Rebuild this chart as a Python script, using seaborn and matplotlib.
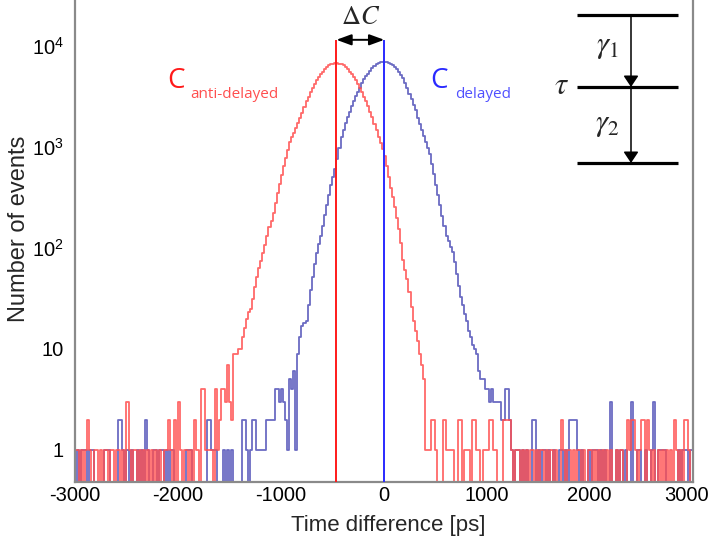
import numpy as np
import pandas as pd
import matplotlib
matplotlib.use("Agg")
import matplotlib.pyplot as plt
import matplotlib.transforms as mtransforms
from matplotlib.ticker import MultipleLocator, LogLocator, FixedLocator, FixedFormatter, NullFormatter
import seaborn as sns

# ---------------- data ----------------
bin_width = 20
x_min, x_max = -3000, 3000

# "C anti-delayed" (red) histogram: core region counts, first bin left edge
red_core_start = -1540
red_core_counts = [
    3, 7, 3, 2, 9, 9, 10, 10, 13, 16, 20, 23, 25, 31, 41, 52, 63, 75, 89, 108,
    131, 160, 185, 221, 279, 350, 431, 526, 641, 776, 933, 1122, 1247, 1387, 1540,
    1711, 1914, 2193, 2512, 2831, 3133, 3467, 3837, 4246, 4609, 4898, 5219, 5559,
    5902, 6223, 6427, 6592, 6699, 6761, 6761, 6699, 6592, 6427, 6223, 5909, 5553,
    5219, 4904, 4609, 4246, 3837, 3467, 3133, 2831, 2525, 2223, 1959, 1706, 1469,
    1268, 1094, 944, 813, 641, 500, 395, 316, 254, 198, 155, 111, 76, 61, 49, 37,
    26, 19, 15, 12, 9, 7, 5, 1, 1, 1, 2, 2, 1,
]
red_noise_edges = [
    -3000, -2980, -2940, -2900, -2880, -2860, -2820, -2800, -2760, -2720, -2700,
    -2660, -2640, -2600, -2580, -2540, -2500, -2480, -2440, -2420, -2380, -2340,
    -2300, -2260, -2220, -2180, -2140, -2120, -2100, -2080, -2040, -2000, -1980,
    -1940, -1920, -1880, -1840, -1820, -1780, -1760, -1740, -1720, -1700, -1680,
    -1640, -1620, -1600, -1580, -1560,
    580, 600, 620, 640, 660, 720, 740, 780, 800, 820, 860, 880, 900, 920, 960, 980,
    1000, 1020, 1040, 1060, 1080, 1160, 1180, 1200, 1220, 1240, 1280, 1300, 1340,
    1380, 1420, 1440, 1480, 1520, 1540, 1580, 1620, 1660, 1720, 1740, 1780, 1800,
    1840, 1880, 1900, 1940, 1980, 2000, 2040, 2080, 2120, 2160, 2200, 2260, 2300,
    2360, 2380, 2400, 2420, 2440, 2480, 2500, 2520, 2560, 2580, 2620, 2660, 2700,
    2740, 2780, 2820, 2840, 2880, 2920, 2940, 2960,
]
red_noise_counts = [
    1, 1, 1, 1, 2, 1, 1, 1, 1, 1, 1,
    1, 1, 1, 1, 1, 3, 1, 1, 1, 1, 1,
    1, 1, 1, 1, 1, 1, 2, 1, 2, 3, 1,
    1, 1, 1, 2, 1, 4, 4, 1, 1, 1, 1,
    4, 1, 2, 4, 4,
    2, 1, 1, 1, 1, 2, 2, 1, 1, 1, 2, 2, 1, 1, 1, 1,
    1, 2, 2, 1, 1, 2, 2, 2, 2, 1, 1, 1, 1,
    1, 1, 1, 1, 1, 1, 1, 1, 1, 2, 1, 1, 1,
    1, 1, 1, 1, 1, 1, 1, 1, 1, 1, 1, 1, 1,
    2, 1, 2, 2, 1, 1, 2, 2, 2, 1, 1, 1, 1,
    1, 1, 2, 1, 1, 2, 2, 1,
]

# "C delayed" (blue) histogram
blue_core_start = -1140
blue_core_counts = [
    2, 2, 2, 2, 4, 4, 3, 4, 3, 2, 1, 5, 4, 6, 1, 9, 13, 17, 18, 19, 27, 38, 52, 69,
    89, 109, 131, 164, 210, 268, 335, 417, 507, 610, 752, 968, 1250, 1466, 1711,
    1968, 2234, 2535, 2858, 3162, 3499, 3873, 4285, 4699, 5000, 5321, 5662, 6026,
    6376, 6607, 6780, 6914, 6982, 6998, 6950, 6855, 6699, 6457, 6180, 5872, 5521,
    5152, 4764, 4330, 3823, 3377, 2983, 2630, 2301, 1945, 1683, 1472, 1288, 1127,
    986, 861, 678, 536, 424, 335, 265, 209, 166, 131, 116, 103, 92, 73, 55, 42, 33,
    27, 22, 19, 15, 13, 11, 10, 9, 6, 5, 5, 4, 4, 3, 4, 3, 3, 3, 3, 2, 2, 4, 4, 2, 1,
]
blue_noise_edges = [
    -2980, -2940, -2920, -2900, -2860, -2840, -2720, -2700, -2680, -2580, -2560,
    -2540, -2500, -2460, -2400, -2360, -2320, -2300, -2240, -2220, -2180, -2160,
    -2120, -2080, -2060, -1920, -1900, -1880, -1720, -1700, -1680, -1660, -1640,
    -1560, -1520, -1480, -1380, -1360, -1340, -1300, -1280, -1260, -1240, -1220,
    -1200, -1180, -1160,
    1280, 1300, 1340, 1380, 1440, 1460, 1500, 1540, 1560, 1600, 1640, 1700, 1720,
    1760, 1800, 1820, 1840, 1860, 1880, 1920, 1980, 2020, 2040, 2060, 2100, 2140,
    2200, 2260, 2300, 2340, 2400, 2460, 2480, 2540, 2600, 2620, 2660, 2680, 2700,
    2720, 2860, 2900, 2920, 2940, 2980,
]
blue_noise_counts = [
    1, 1, 1, 1, 1, 1, 1, 1, 1, 2, 2,
    1, 1, 1, 1, 1, 2, 1, 1, 1, 1, 1,
    1, 1, 1, 1, 1, 1, 2, 2, 1, 1, 1,
    1, 1, 1, 2, 2, 1, 1, 2, 2, 1, 1,
    1, 1, 1,
    1, 1, 1, 1, 2, 2, 1, 1, 1, 1, 1, 1, 1,
    1, 2, 2, 2, 2, 1, 1, 1, 1, 1, 1, 1, 1,
    3, 1, 1, 1, 3, 1, 1, 1, 1, 3, 1, 1, 1,
    1, 1, 1, 1, 1, 1,
]

red_centroid = -460
blue_centroid = 5

x_ticks = [-3000, -2000, -1000, 0, 1000, 2000, 3000]
x_tick_labels = ["-3000", "-2000", "-1000", "0", "1000", "2000", "3000"]
y_ticks = [1, 10, 100, 1000, 10000]
y_tick_labels = ["1", "10", "$10^2$", "$10^3$", "$10^4$"]

# ---------------- assemble ----------------
edges = np.arange(x_min, x_max + bin_width, bin_width)
centers = edges[:-1] + bin_width / 2


def build(core_start, core_counts, noise_edges, noise_counts):
    counts = np.zeros(len(centers))
    i0 = (core_start - x_min) // bin_width
    counts[i0:i0 + len(core_counts)] = core_counts
    for e, c in zip(noise_edges, noise_counts):
        counts[(e - x_min) // bin_width] = c
    return counts


df = pd.concat([
    pd.DataFrame({"time": centers, "counts": build(blue_core_start, blue_core_counts,
                                                   blue_noise_edges, blue_noise_counts),
                  "series": "delayed"}),
    pd.DataFrame({"time": centers, "counts": build(red_core_start, red_core_counts,
                                                   red_noise_edges, red_noise_counts),
                  "series": "anti-delayed"}),
], ignore_index=True)

# ---------------- style ----------------
sns.set_style("white")
plt.rcParams["font.family"] = ["Liberation Sans", "DejaVu Sans"]
plt.rcParams["mathtext.fontset"] = "custom"
plt.rcParams["mathtext.rm"] = "Liberation Sans"
plt.rcParams["mathtext.it"] = "Liberation Sans:italic"
plt.rcParams["mathtext.bf"] = "Liberation Sans:bold"

W, H = 709, 546
fig = plt.figure(figsize=(W / 100, H / 100), dpi=100)
ax = fig.add_axes([75 / W, (H - 482) / H, (692.5 - 75) / W, 482 / H])

hist_colors = {"delayed": "#5252b8", "anti-delayed": "#ff4f4f"}
bin_list = [float(b) for b in edges]
for name in ["delayed", "anti-delayed"]:
    sub = df[df["series"] == name].reset_index(drop=True)
    sns.histplot(data=sub, x="time", weights="counts", bins=bin_list, element="step",
                 fill=False, color=hist_colors[name], linewidth=1.3, alpha=0.85, ax=ax)

ax.set_yscale("log")
ax.set_xlim(x_min, x_max)
ax.set_ylim(0.482, 28500)

line_top = 11500
ax.vlines(red_centroid, 0.482, line_top, color="#ff1a1a", linewidth=1.4, zorder=5)
ax.vlines(blue_centroid, 0.482, line_top, color="#2a2aff", linewidth=1.4, zorder=5)
ax.annotate("", xy=(blue_centroid, line_top), xytext=(red_centroid, line_top),
            arrowprops=dict(arrowstyle="<|-|>,head_length=0.6,head_width=0.22",
                            mutation_scale=15, color="black", lw=1.4,
                            shrinkA=0, shrinkB=0), zorder=6)

# axes / ticks
ax.xaxis.set_major_locator(FixedLocator(x_ticks))
ax.xaxis.set_major_formatter(FixedFormatter(x_tick_labels))
ax.xaxis.set_minor_locator(MultipleLocator(200))
ax.yaxis.set_major_locator(FixedLocator(y_ticks))
ax.yaxis.set_major_formatter(FixedFormatter(y_tick_labels))
ax.yaxis.set_minor_locator(LogLocator(base=10, subs=np.arange(2, 10), numticks=20))
ax.yaxis.set_minor_formatter(NullFormatter())

grey = "#8a8a8a"
ax.tick_params(which="both", direction="in", color=grey, labelcolor="black",
               labelsize=14.5, top=False, right=False, width=1.2)
ax.tick_params(axis="x", which="major", length=9.5, pad=3)
ax.tick_params(axis="x", which="minor", length=5)
ax.tick_params(axis="y", which="major", length=13, pad=8)
ax.tick_params(axis="y", which="minor", length=6.5)
for s in ["left", "bottom", "right"]:
    ax.spines[s].set_color(grey)
    ax.spines[s].set_linewidth(1.6)
ax.spines["top"].set_visible(False)

# keep the right-most tick label inside the figure
fig.canvas.draw()
shift = mtransforms.ScaledTranslation(-6 / 100, 0, fig.dpi_scale_trans)
last_lbl = ax.get_xticklabels()[-1]
last_lbl.set_transform(last_lbl.get_transform() + shift)

ax.set_xlabel("Time difference [ps]", fontsize=16)
ax.xaxis.set_label_coords((388 - 75) / 617.5, -(525 - 482) / 482)
ax.xaxis.label.set_verticalalignment("center")
ax.set_ylabel("Number of events", fontsize=17)
ax.yaxis.set_label_coords((19 - 75) / 617.5, (482 - 229) / 482)
ax.yaxis.label.set_verticalalignment("center")

# ---------------- overlay in pixel coordinates ----------------
ov = fig.add_axes([0, 0, 1, 1], zorder=10)
ov.set_xlim(0, W)
ov.set_ylim(H, 0)
ov.axis("off")
ov.patch.set_alpha(0)

ov.text(361, 17, r"$\Delta C$", fontsize=19, ha="center", va="center",
        math_fontfamily="stix")

ov.text(176, 81, "C", fontsize=20, color="#ff1a1a", ha="center", va="center",
        family="Open Sans")
ov.text(190, 95, "anti-delayed", fontsize=11, color="#ff4f4f", ha="left",
        va="center", family="Open Sans")
ov.text(439, 81, "C", fontsize=20, color="#2a2aff", ha="center", va="center",
        family="Open Sans")
ov.text(455, 95, "delayed", fontsize=11, color="#5050ff", ha="left",
        va="center", family="Open Sans")

# level scheme
for yl in [15, 87, 163]:
    ov.plot([577, 678], [yl, yl], color="black", lw=2.3, solid_capstyle="butt")
for y0, y1 in [(15, 87), (87, 163)]:
    ov.annotate("", xy=(631, y1), xytext=(631, y0),
                arrowprops=dict(arrowstyle="-|>,head_length=0.45,head_width=0.3",
                                mutation_scale=15, color="black", lw=1.1,
                                shrinkA=0, shrinkB=0))
ov.text(607, 46, r"$\gamma_1$", fontsize=22, ha="center", va="center",
        math_fontfamily="stix")
ov.text(607, 124, r"$\gamma_2$", fontsize=22, ha="center", va="center",
        math_fontfamily="stix")
ov.text(562, 86, r"$\tau$", fontsize=22, ha="center", va="center",
        math_fontfamily="stix")

fig.savefig("out.png", dpi=100)
